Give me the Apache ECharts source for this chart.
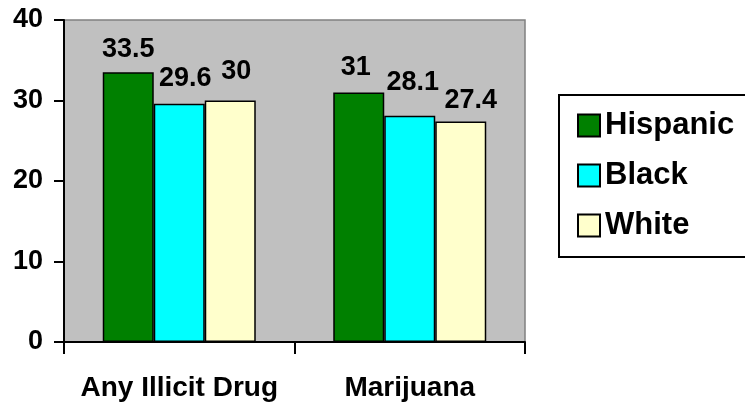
<!DOCTYPE html>
<html>
<head>
<meta charset="utf-8">
<script src="https://cdn.jsdelivr.net/npm/echarts@6/dist/echarts.min.js"></script>
<style>
  html, body { margin: 0; padding: 0; background: #ffffff; }
  #chart { width: 745px; height: 402px; }
</style>
</head>
<body>
<div id="chart"></div>
<script>
// Categories and values per group
const categories = ['Any Illicit Drug', 'Marijuana'];
const seriesNames = ['Hispanic', 'Black', 'White'];
const hispanic = [33.5, 31];
const black = [29.6, 28.1];
const white = [30, 27.4];
const yTicks = { min: 0, max: 40, interval: 10 };

// Colours for each group
const colors = ['#008000', '#00ffff', '#ffffcc'];

// Small per-label nudges [dx, dy] so the value labels sit clear of each other
const labelNudge = [
  [[0, 0], [-3, -2]],
  [[6, -3], [3, -11]],
  [[6, -6], [10, 2]]
];

const FONT = '"Liberation Sans", Arial, sans-serif';
const values = [hispanic, black, white];

const series = seriesNames.map((name, s) => ({
  name: name,
  type: 'bar',
  barWidth: 51,
  barGap: '0%',
  itemStyle: { color: colors[s], borderColor: '#000', borderWidth: 1.5 },
  data: values[s].map((v, i) => ({
    value: v,
    label: { offset: labelNudge[s][i] }
  })),
  label: {
    show: true,
    position: 'top',
    distance: 9,
    color: '#000',
    fontFamily: FONT,
    fontWeight: 'bold',
    fontSize: 27,
    lineHeight: 27
  }
}));

const chart = echarts.init(document.getElementById('chart'), null, { renderer: 'canvas' });
chart.setOption({
  animation: false,
  backgroundColor: '#ffffff',
  grid: {
    left: 64, right: 220, top: 20, bottom: 57.5,
    show: true,
    backgroundColor: '#c0c0c0',
    borderColor: '#808080',
    borderWidth: 1.5
  },
  legend: {
    orient: 'vertical',
    left: 559,
    top: 95,
    itemWidth: 22,
    itemHeight: 22,
    itemGap: 19,
    icon: 'rect',
    borderColor: '#000',
    borderWidth: 2,
    padding: [15, 40, 16, 18],
    textStyle: {
      fontFamily: FONT,
      fontWeight: 'bold',
      fontSize: 31,
      lineHeight: 22,
      height: 22,
      color: '#000'
    },
    data: seriesNames
  },
  xAxis: {
    type: 'category',
    data: categories,
    axisLine: { lineStyle: { color: '#000', width: 2 } },
    axisTick: { show: true, length: 12, lineStyle: { color: '#000', width: 2 } },
    axisLabel: {
      interval: 0,
      color: '#000',
      fontFamily: FONT,
      fontWeight: 'bold',
      fontSize: 28,
      lineHeight: 28,
      margin: 32
    }
  },
  yAxis: {
    type: 'value',
    min: yTicks.min,
    max: yTicks.max,
    interval: yTicks.interval,
    splitLine: { show: false },
    axisLine: { show: true, lineStyle: { color: '#000', width: 2 } },
    axisTick: { show: true, length: 10, lineStyle: { color: '#000', width: 2 } },
    axisLabel: {
      color: '#000',
      fontFamily: FONT,
      fontWeight: 'bold',
      fontSize: 27,
      margin: 21
    }
  },
  series: series
});
</script>
</body>
</html>
